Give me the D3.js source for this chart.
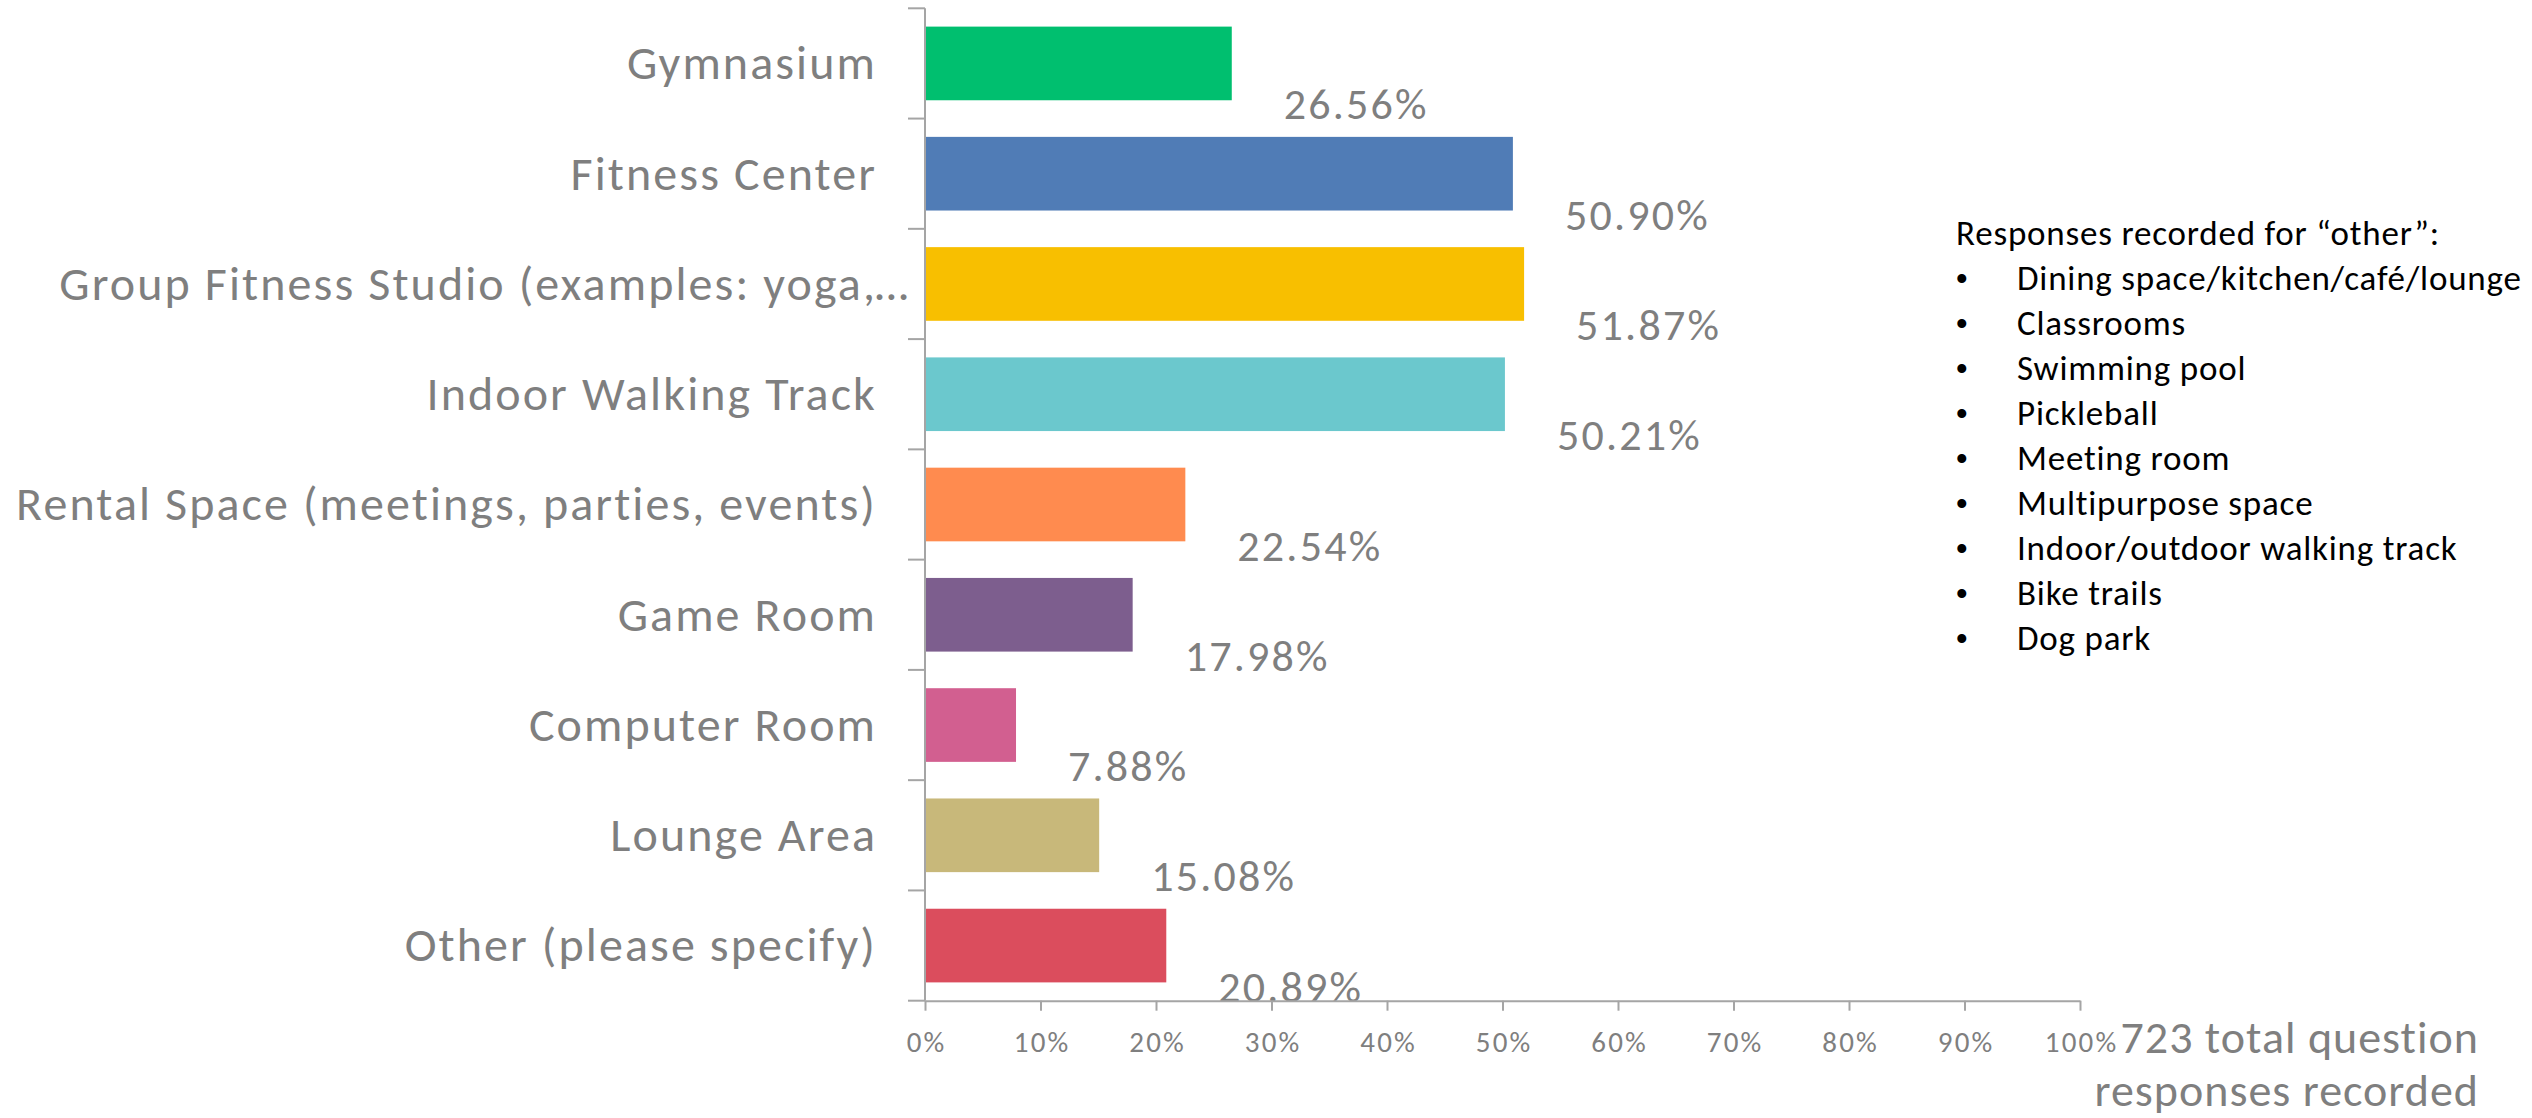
<!DOCTYPE html>
<html>
<head>
<meta charset="utf-8">
<script src="https://cdn.jsdelivr.net/npm/d3@7"></script>
<style>
  body { margin: 0; background: #fff; }
  text { font-family: Calibri, Carlito, Lato, sans-serif; }
</style>
</head>
<body>
<div id="chart"></div>
<script>
let w = 2532;
let h = 1118;

// chart data
let categories = [
    "Gymnasium",
    "Fitness Center",
    "Group Fitness Studio (examples: yoga,…",
    "Indoor Walking Track",
    "Rental Space (meetings, parties, events)",
    "Game Room",
    "Computer Room",
    "Lounge Area",
    "Other (please specify)"
];
let percents = [26.56, 50.90, 51.87, 50.21, 22.54, 17.98, 7.88, 15.08, 20.89];
let barColors = ["#00bf6f", "#507cb6", "#f8bf00", "#6bc8cd", "#ff8b4f", "#7d5e8e", "#d25f90", "#c8b87a", "#db4d5d"];
let xTicks = [0, 0.1, 0.2, 0.3, 0.4, 0.5, 0.6, 0.7, 0.8, 0.9, 1];
let totalNote = ["723 total question", "responses recorded"];
let otherTitle = "Responses recorded for \u201cother\u201d:";
let otherItems = [
    "Dining space/kitchen/café/lounge",
    "Classrooms",
    "Swimming pool",
    "Pickleball",
    "Meeting room",
    "Multipurpose space",
    "Indoor/outdoor walking track",
    "Bike trails",
    "Dog park"
];

let grey = "#7f7f7f";
let axisGrey = "#a5a5a5";

let svg = d3.select("#chart").append("svg")
    .attr("width", w)
    .attr("height", h)
    .style("display", "block");

let xScale = d3.scaleLinear().domain([0, 1]).range([925, 2080]);
let yScale = d3.scaleBand().domain(categories).range([8.3, 1000.7])
    .paddingInner(0.332)
    .paddingOuter(0.166);

let data = categories.map(function(c, i){
    return {name: c, value: percents[i] / 100, color: barColors[i]};
});

// bars
svg.append("g").selectAll("rect")
    .data(data)
    .join("rect")
    .attr("x", xScale(0))
    .attr("y", d => yScale(d.name))
    .attr("width", d => xScale(d.value) - xScale(0))
    .attr("height", yScale.bandwidth())
    .attr("fill", d => d.color);

// y axis: line + ticks between categories
let yTop = yScale.range()[0];
let step = yScale.step();
svg.append("line")
    .attr("x1", xScale(0)).attr("x2", xScale(0))
    .attr("y1", yTop).attr("y2", yScale.range()[1])
    .attr("stroke", axisGrey).attr("stroke-width", 2);
svg.append("g").selectAll("line")
    .data(d3.range(categories.length))
    .join("line")
    .attr("x1", xScale(0) - 17).attr("x2", xScale(0))
    .attr("y1", i => yTop + i * step)
    .attr("y2", i => yTop + i * step)
    .attr("stroke", axisGrey).attr("stroke-width", 2);

// category labels
let labelX = xScale(0) - 48;
svg.append("g").selectAll("text")
    .data(data)
    .join("text")
    .attr("x", labelX)
    .attr("y", d => yScale(d.name) + yScale.bandwidth() / 2)
    .attr("dy", "0.33em")
    .attr("text-anchor", "end")
    .attr("font-size", 48)
    .attr("letter-spacing", 2.1)
    .attr("fill", grey)
    .text(d => d.name.endsWith("…") ? d.name.slice(0, -1) : d.name);
// truncated label: ellipsis runs past the label edge
svg.append("g").selectAll("text")
    .data(data.filter(d => d.name.endsWith("…")))
    .join("text")
    .attr("x", labelX - 2)
    .attr("y", d => yScale(d.name) + yScale.bandwidth() / 2)
    .attr("dy", "0.33em")
    .attr("font-size", 48)
    .attr("fill", grey)
    .text("…");

// value labels, below right of the bar end
svg.append("g").selectAll("text")
    .data(data)
    .join("text")
    .attr("x", d => xScale(d.value) + 52)
    .attr("y", d => yScale(d.name) + yScale.bandwidth() / 2 + 56)
    .attr("font-size", 44)
    .attr("letter-spacing", 2.2)
    .attr("fill", grey)
    .text(d => d.value.toLocaleString("en-US", {style: "percent", minimumFractionDigits: 2}));

// x axis
let xAxisY = yScale.range()[1];
let xAxis = svg.append("g")
    .attr("transform", "translate(0," + xAxisY + ")")
    .call(d3.axisBottom(xScale)
        .tickValues(xTicks)
        .tickFormat(d3.format(".0%"))
        .tickSize(10)
        .tickSizeOuter(0)
        .tickPadding(21));
xAxis.select(".domain").attr("stroke", axisGrey).attr("stroke-width", 2);
xAxis.selectAll(".tick line").attr("stroke", axisGrey).attr("stroke-width", 2);
xAxis.selectAll(".tick text")
    .attr("fill", grey)
    .attr("font-size", 29)
    .attr("letter-spacing", 2.2)
    .attr("dx", 1.1)
    .style("font-family", "Calibri, Carlito, Lato, sans-serif");
svg.append("line")
    .attr("x1", xScale(0) - 17).attr("x2", xScale(0))
    .attr("y1", xAxisY).attr("y2", xAxisY)
    .attr("stroke", axisGrey).attr("stroke-width", 2);

// total note at bottom right
svg.append("g").selectAll("text")
    .data(totalNote)
    .join("text")
    .attr("x", 2479)
    .attr("y", (d, i) => 1053 + i * 53)
    .attr("text-anchor", "end")
    .attr("font-size", 46)
    .attr("letter-spacing", 1.0)
    .attr("fill", grey)
    .text(d => d);

// "other" responses list
let note = svg.append("g").attr("transform", "translate(1956,245)");
note.append("text")
    .attr("x", 0).attr("y", 0)
    .attr("font-size", 35)
    .attr("letter-spacing", 0.8)
    .attr("fill", "#000")
    .text(otherTitle);
let items = note.selectAll(".item")
    .data(otherItems)
    .join("g")
    .attr("class", "item")
    .attr("transform", (d, i) => "translate(0," + (i + 1) * 45 + ")");
items.append("text")
    .attr("x", 0)
    .attr("font-size", 33)
    .attr("fill", "#000")
    .style("font-family", "Arial, 'Liberation Sans', sans-serif")
    .text("•");
items.append("text")
    .attr("x", 61)
    .attr("font-size", 35)
    .attr("letter-spacing", 0.8)
    .attr("fill", "#000")
    .text(d => d);
</script>
</body>
</html>
